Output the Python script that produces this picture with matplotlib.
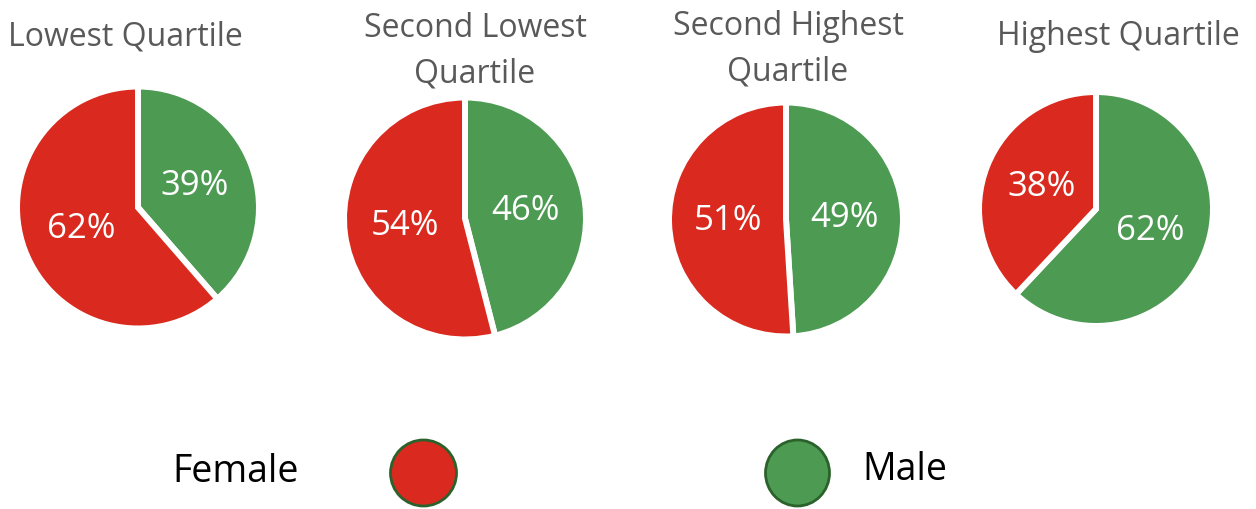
import matplotlib
matplotlib.use("Agg")
import matplotlib.pyplot as plt
from matplotlib.patches import Ellipse

# ---- data ----
titles = ["Lowest Quartile", "Second Lowest\nQuartile", "Second Highest\nQuartile", "Highest Quartile"]
male = [39, 46, 49, 62]
female = [62, 54, 51, 38]
legend_labels = ["Female", "Male"]

# ---- style ----
RED = "#DA291E"
GREEN = "#4D9A53"
GRAY = "#595959"
FONT = "Open Sans"

W, H = 1256, 509
fig = plt.figure(figsize=(W / 100, H / 100), dpi=100)
ax = fig.add_axes([0, 0, 1, 1])

def fy(y):
    return H - y

# layout (pixel positions)
centers = [(138, 207.5), (465, 218.5), (786, 219.5), (1096, 209)]
radii = [118, 118, 114, 114]
# baseline of the last title line
title_pos = [(125, 45), (475, 82), (788, 80), (1118, 45)]
EDGE = 4.3  # white separator width (pt)
pad = EDGE * 100 / 72 / 2

for i in range(4):
    cx, cy = centers[i]
    vals = [male[i], female[i]]
    wedges, _, autotexts = ax.pie(
        vals, colors=[GREEN, RED], startangle=90, counterclock=False,
        center=(cx, fy(cy)), radius=radii[i] + pad,
        autopct=lambda p: "", pctdistance=0.5,
        wedgeprops=dict(edgecolor="white", linewidth=EDGE),
        textprops=dict(color="white", fontsize=25, family=FONT))
    for t, v in zip(autotexts, vals):
        t.set_text(f"{v}%")
    tx, ty = title_pos[i]
    ax.text(tx, fy(ty), titles[i], ha="center", va="baseline", color=GRAY,
            fontsize=23, family=FONT, linespacing=1.47,
            multialignment="center")

# legend
ax.text(172, fy(482), legend_labels[0], ha="left", va="baseline", color="black",
        fontsize=27, family=FONT)
ax.add_patch(Ellipse((423.5, fy(473)), 66, 66, facecolor=RED, edgecolor="#2B622B", linewidth=2))
ax.add_patch(Ellipse((797.5, fy(473)), 64, 66, facecolor=GREEN, edgecolor="#2B622B", linewidth=2))
ax.text(862, fy(480), legend_labels[1], ha="left", va="baseline", color="black",
        fontsize=27, family=FONT)

ax.set_xlim(0, W)
ax.set_ylim(0, H)
ax.set_aspect("auto")
ax.axis("off")
fig.savefig("out.png", dpi=100)
